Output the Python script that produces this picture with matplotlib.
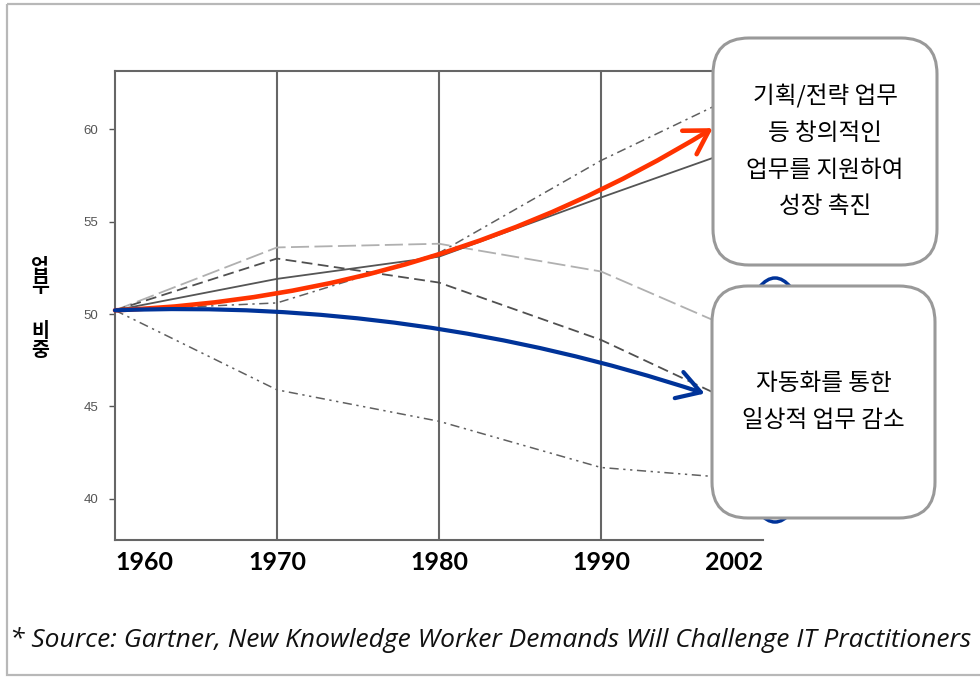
import matplotlib
matplotlib.use("Agg")
import matplotlib.pyplot as plt
from matplotlib.patches import FancyBboxPatch, Ellipse, Rectangle

KR = ["Noto Sans CJK KR", "DejaVu Sans"]

years = ["1960", "1970", "1980", "1990", "2002"]
xpos = [0, 1, 2, 3, 4]

# 업무 유형별 비중 (회색 선들)
s_light = [50.2, 53.6, 53.8, 52.3, 48.5]
s_dash = [50.2, 53.0, 51.7, 48.6, 44.5]
s_solid = [50.2, 51.9, 53.1, 56.3, 59.4]
s_dashdot = [50.2, 50.6, 53.3, 58.3, 62.5]
s_low = [50.2, 45.9, 44.2, 41.7, 41.0]

yticks = [40, 45, 50, 55, 60]

# 강조 화살표 (시작점, 끝점)
red_start, red_end = (0, 50.2), (3.69, 60.05)
blue_start, blue_end = (0, 50.2), (3.64, 45.7)

box_up = "기획/전략 업무\n등 창의적인\n업무를 지원하여\n성장 촉진"
box_down = "자동화를 통한\n일상적 업무 감소"
source = "* Source: Gartner, New Knowledge Worker Demands Will Challenge IT Practitioners"

fig = plt.figure(figsize=(9.8, 6.78), dpi=100)
ax = fig.add_axes([115 / 980, 1 - 540 / 678, (763 - 115) / 980, (540 - 71) / 678])

ax.plot(xpos, s_light, color="#b0b0b0", lw=1.3, ls=(0, (10, 3)))
ax.plot(xpos, s_dash, color="#505050", lw=1.3, ls=(0, (6, 3)))
ax.plot(xpos, s_solid, color="#555555", lw=1.3, ls="-")
ax.plot(xpos, s_dashdot, color="#606060", lw=1.1, ls=(0, (6, 3, 1.5, 3)))
ax.plot(xpos, s_low, color="#606060", lw=1.1, ls=(0, (6, 3, 1.5, 3, 1.5, 3)))

for x in xpos[1:4]:
    ax.axvline(x, color="#666666", lw=1.5, zorder=1)

ax.annotate("", xy=red_end, xytext=red_start,
            arrowprops=dict(arrowstyle="->,head_length=0.75,head_width=0.45",
                            color="#ff3300", lw=3.3, mutation_scale=22,
                            connectionstyle="arc3,rad=0.13", shrinkA=0, shrinkB=0),
            zorder=5)
ax.annotate("", xy=blue_end, xytext=blue_start,
            arrowprops=dict(arrowstyle="->,head_length=0.75,head_width=0.45",
                            color="#003399", lw=3.0, mutation_scale=22,
                            connectionstyle="arc3,rad=-0.09", shrinkA=0, shrinkB=0),
            zorder=5)

ax.set_xlim(0, 4)
ax.set_ylim(37.78, 63.14)
ax.set_yticks(yticks)
ax.set_yticklabels([str(v) for v in yticks], color="#555555", fontsize=9.5,
                   family="Liberation Sans")
ax.tick_params(axis="y", length=4, color="#555555", width=1, pad=8)
ax.set_xticks(xpos)
ax.set_xticklabels(years, fontsize=18, fontweight="bold", family="Lato")
ax.tick_params(axis="x", length=0, pad=8)
labs = ax.get_xticklabels()
labs[0].set_ha("left")
labs[-1].set_ha("right")
for side in ["left", "bottom", "top"]:
    ax.spines[side].set_color("#666666")
    ax.spines[side].set_linewidth(1.5)
ax.spines["right"].set_visible(False)

# 픽셀 좌표 오버레이
ov = fig.add_axes([0, 0, 1, 1])
ov.set_xlim(0, 980)
ov.set_ylim(678, 0)
ov.axis("off")
ov.patch.set_alpha(0)

ov.add_patch(Rectangle((7, 4), 1000, 671, fill=False, ec="#b8b8b8", lw=1.6))
ov.add_patch(Ellipse((775, 400), 82, 244, fill=False, ec="#003399", lw=2.5, zorder=2))

for (x0, y0, x1, y1), txt in [((713, 38, 937, 265), box_up),
                              ((712, 286, 935, 518), box_down)]:
    ov.add_patch(FancyBboxPatch((x0, y0), x1 - x0, y1 - y0,
                                boxstyle="round,pad=0,rounding_size=36",
                                fc="white", ec="#999999", lw=2.2, zorder=3))
    ov.text((x0 + x1) / 2, (y0 + y1) / 2, txt, ha="center", va="center",
            fontsize=17, family=KR, linespacing=1.75, zorder=4)

ov.text(40, 277, "업\n무", ha="center", va="center", fontsize=14,
        fontweight="bold", family=KR, linespacing=1.05)
ov.text(40, 341, "비\n중", ha="center", va="center", fontsize=14,
        fontweight="bold", family=KR, linespacing=1.0)

ov.text(10, 640, source, ha="left", va="center", fontsize=19,
        style="italic", family="Open Sans", color="#111111")

fig.savefig("out.png", dpi=100)
